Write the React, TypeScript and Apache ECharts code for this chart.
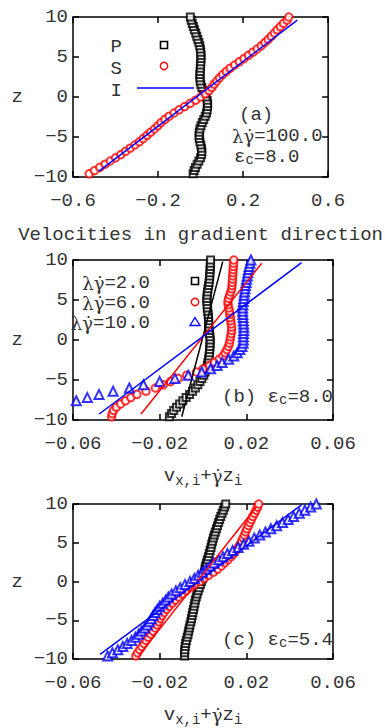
import React, { useEffect, useRef } from 'react';
import * as echarts from 'echarts';

// z grid (shared by all profiles)
const Z = [-9.6, -9.2, -8.8, -8.4, -8.0, -7.6, -7.2, -6.8, -6.4, -6.0, -5.6, -5.2, -4.8, -4.4, -4.0, -3.6, -3.2, -2.8, -2.4, -2.0, -1.6, -1.2, -0.8, -0.4, 0.0, 0.4, 0.8, 1.2, 1.6, 2.0, 2.4, 2.8, 3.2, 3.6, 4.0, 4.4, 4.8, 5.2, 5.6, 6.0, 6.4, 6.8, 7.2, 7.6, 8.0, 8.4, 8.8, 9.2, 9.6, 10.0];

// panel (a)
const A_P = [-0.035, -0.030, -0.024, -0.016, -0.008, 0.000, 0.005, 0.006, 0.004, 0.001, -0.003, -0.006, -0.007, -0.006, -0.003, 0.002, 0.008, 0.015, 0.022, 0.028, 0.031, 0.033, 0.033, 0.031, 0.026, 0.020, 0.013, 0.006, 0.001, -0.002, -0.003, -0.003, -0.002, -0.001, 0.000, 0.001, 0.002, 0.002, 0.001, -0.001, -0.004, -0.008, -0.013, -0.018, -0.023, -0.029, -0.034, -0.039, -0.044, -0.048];
const A_S = [-0.524, -0.499, -0.474, -0.449, -0.425, -0.400, -0.375, -0.353, -0.331, -0.309, -0.288, -0.270, -0.252, -0.235, -0.217, -0.201, -0.186, -0.168, -0.148, -0.125, -0.101, -0.075, -0.049, -0.023, 0.000, 0.022, 0.040, 0.053, 0.064, 0.076, 0.089, 0.104, 0.121, 0.139, 0.160, 0.182, 0.204, 0.225, 0.246, 0.266, 0.285, 0.302, 0.318, 0.333, 0.347, 0.360, 0.375, 0.390, 0.407, 0.415];
const A_I = [[-0.479, -9.3], [0.455, 9.6]];

// panel (b)
const B_P = [-0.0155, -0.0145, -0.0135, -0.0122, -0.0108, -0.0093, -0.0078, -0.0062, -0.0048, -0.0035, -0.0024, -0.0014, -0.0005, 0.0004, 0.0010, 0.0016, 0.0020, 0.0023, 0.0026, 0.0028, 0.0030, 0.0031, 0.0032, 0.0033, 0.0033, 0.0032, 0.0030, 0.0028, 0.0027, 0.0026, 0.0026, 0.0025, 0.0024, 0.0022, 0.0020, 0.0019, 0.0018, 0.0018, 0.0019, 0.0021, 0.0023, 0.0026, 0.0028, 0.0030, 0.0031, 0.0032, 0.0033, 0.0034, 0.0034, 0.0035];
const B_S = [-0.0422, -0.0419, -0.0413, -0.0400, -0.0380, -0.0358, -0.0333, -0.0305, -0.0263, -0.0220, -0.0183, -0.0150, -0.0115, -0.0075, -0.0030, 0.0000, 0.0030, 0.0052, 0.0075, 0.0092, 0.0102, 0.0110, 0.0117, 0.0122, 0.0125, 0.0127, 0.0130, 0.0132, 0.0132, 0.0130, 0.0128, 0.0126, 0.0124, 0.0122, 0.0119, 0.0116, 0.0115, 0.0118, 0.0123, 0.0128, 0.0132, 0.0134, 0.0135, 0.0136, 0.0137, 0.0138, 0.0139, 0.0140, 0.0141, 0.0142];
const B_T = [null, null, null, null, null, -0.0585, -0.0534, -0.0480, -0.0415, -0.0340, -0.0275, -0.0200, -0.0130, -0.0068, -0.0006, 0.0035, 0.0065, 0.0088, 0.0118, 0.0142, 0.0158, 0.0170, 0.0180, 0.0185, 0.0186, 0.0186, 0.0187, 0.0188, 0.0188, 0.0187, 0.0186, 0.0185, 0.0184, 0.0183, 0.0183, 0.0184, 0.0186, 0.0188, 0.0190, 0.0192, 0.0194, 0.0196, 0.0199, 0.0201, 0.0204, 0.0207, 0.0210, 0.0213, 0.0217, 0.0221];
const B_LP = [[-0.0098, -9.6], [0.0091, 9.8]];
const B_LS = [[-0.0286, -9.25], [0.0271, 9.6]];
const B_LT = [[-0.0479, -9.25], [0.0455, 9.67]];

// panel (c)
const C_P = [-0.0085, -0.0085, -0.0084, -0.0082, -0.0080, -0.0077, -0.0073, -0.0069, -0.0066, -0.0063, -0.0060, -0.0056, -0.0053, -0.0050, -0.0047, -0.0044, -0.0041, -0.0038, -0.0035, -0.0031, -0.0027, -0.0022, -0.0017, -0.0012, -0.0007, -0.0002, 0.0003, 0.0006, 0.0009, 0.0012, 0.0016, 0.0020, 0.0025, 0.0029, 0.0033, 0.0037, 0.0040, 0.0044, 0.0048, 0.0052, 0.0057, 0.0062, 0.0067, 0.0072, 0.0077, 0.0082, 0.0088, 0.0094, 0.0100, 0.0105];
const C_S = [-0.0310, -0.0302, -0.0292, -0.0282, -0.0272, -0.0262, -0.0252, -0.0240, -0.0230, -0.0220, -0.0212, -0.0205, -0.0198, -0.0190, -0.0180, -0.0168, -0.0156, -0.0143, -0.0128, -0.0113, -0.0096, -0.0078, -0.0058, -0.0038, -0.0015, 0.0005, 0.0025, 0.0048, 0.0068, 0.0085, 0.0100, 0.0115, 0.0130, 0.0142, 0.0153, 0.0163, 0.0171, 0.0178, 0.0185, 0.0191, 0.0197, 0.0203, 0.0210, 0.0217, 0.0223, 0.0230, 0.0238, 0.0245, 0.0252, 0.0257];
const C_T = [-0.0440, -0.0418, -0.0393, -0.0370, -0.0350, -0.0330, -0.0312, -0.0297, -0.0284, -0.0270, -0.0258, -0.0248, -0.0239, -0.0230, -0.0221, -0.0211, -0.0200, -0.0186, -0.0172, -0.0160, -0.0145, -0.0125, -0.0105, -0.0083, -0.0060, -0.0040, -0.0022, -0.0003, 0.0015, 0.0032, 0.0050, 0.0072, 0.0092, 0.0113, 0.0137, 0.0162, 0.0187, 0.0212, 0.0237, 0.0262, 0.0288, 0.0313, 0.0340, 0.0367, 0.0393, 0.0418, 0.0444, 0.0470, 0.0497, 0.0523];
const C_LS = [[-0.0295, -9.5], [0.0245, 9.6]];
const C_LT = [[-0.0475, -9.4], [0.0455, 9.9]];

const X_RANGES = [
  { min: -0.6, max: 0.6, interval: 0.4, digits: 1 },
  { min: -0.06, max: 0.06, interval: 0.04, digits: 2 },
  { min: -0.06, max: 0.06, interval: 0.04, digits: 2 },
];
const Y_RANGE = { min: -10, max: 10, interval: 5 };

const LEG_A = ['P', 'S', 'I'];
const LAMBDA = '{g|λγ\u0307}';
const LEG_B = [LAMBDA + '=2.0', LAMBDA + '=6.0', LAMBDA + '=10.0'];
const SERIES_B = ['λγ\u0307=2.0', 'λγ\u0307=6.0', 'λγ\u0307=10.0'];

const FONT = "'Liberation Mono', 'DejaVu Sans Mono', monospace";
const SERIF = "'DejaVu Serif', serif";
const TXT = '#333';
const FS = 19;

function pts(xs: (number | null)[]) {
  return Z.map((z, i) => [xs[i], z]).filter((p) => p[0] !== null);
}
function fmt(v: number, d: number) {
  const s = Math.abs(v).toFixed(d);
  return (v < -1e-9 ? '\u2212' : '') + s;
}

const RICH = {
  s: { fontSize: 14, fontFamily: FONT, color: TXT, verticalAlign: 'bottom', lineHeight: 14 },
  g: { fontSize: 18, fontFamily: SERIF, color: TXT },
};

export default function App() {
  const ref = useRef<HTMLDivElement>(null);
  useEffect(() => {
    const chart = echarts.init(ref.current!, null, { renderer: 'svg' });
    const gridPos = [
      { left: 73, top: 17, width: 260, height: 160 },
      { left: 73, top: 260, width: 260, height: 160 },
      { left: 73, top: 504, width: 260, height: 158 },
    ];
    const grid = gridPos.map((g) => ({ ...g, show: true, borderColor: '#000', borderWidth: 1.5, backgroundColor: 'transparent' }));
    const tick = { show: true, inside: true, length: 6, lineStyle: { color: '#000', width: 1.5 } };
    const noLine = { show: false, onZero: false };
    const labelStyle = { color: TXT, fontFamily: FONT, fontSize: FS };
    const xNames = [
      { name: 'Velocities in gradient direction', gap: 46 },
      { name: 'v{s|x,i}+{g|γ\u0307}z{s|i}', gap: 44 },
      { name: 'v{s|x,i}+{g|γ\u0307}z{s|i}', gap: 44 },
    ];
    const xAxis: any[] = [];
    const yAxis: any[] = [];
    for (let g = 0; g < 3; g++) {
      const r = X_RANGES[g];
      xAxis.push({
        type: 'value', gridIndex: g, position: 'bottom', min: r.min, max: r.max, interval: r.interval,
        axisLine: noLine, splitLine: { show: false }, axisTick: tick,
        axisLabel: { ...labelStyle, margin: 14, formatter: (v: number) => fmt(v, r.digits) },
        name: xNames[g].name, nameLocation: 'middle', nameGap: xNames[g].gap,
        nameTextStyle: { ...labelStyle, lineHeight: 24, rich: RICH },
      });
      xAxis.push({
        type: 'value', gridIndex: g, position: 'top', min: r.min, max: r.max, interval: r.interval,
        axisLine: noLine, splitLine: { show: false }, axisTick: tick, axisLabel: { show: false },
      });
      yAxis.push({
        type: 'value', gridIndex: g, position: 'left', min: Y_RANGE.min, max: Y_RANGE.max, interval: Y_RANGE.interval,
        axisLine: noLine, splitLine: { show: false }, axisTick: tick,
        axisLabel: { ...labelStyle, margin: 5, formatter: (v: number) => fmt(v, 0) },
        name: 'z', nameLocation: 'middle', nameGap: 50, nameRotate: 0,
        nameTextStyle: { ...labelStyle },
      });
      yAxis.push({
        type: 'value', gridIndex: g, position: 'right', min: Y_RANGE.min, max: Y_RANGE.max, interval: Y_RANGE.interval,
        axisLine: noLine, splitLine: { show: false }, axisTick: tick, axisLabel: { show: false },
      });
    }
    const sq = (name: string, data: any[], g: number) => ({
      type: 'scatter', name, xAxisIndex: g * 2, yAxisIndex: g * 2, data, symbol: 'emptyRect', symbolSize: 7,
      itemStyle: { color: '#000', borderColor: '#000', borderWidth: 1.6 }, clip: true,
    });
    const ci = (name: string, data: any[], g: number) => ({
      type: 'scatter', name, xAxisIndex: g * 2, yAxisIndex: g * 2, data, symbol: 'emptyCircle', symbolSize: 7.5,
      itemStyle: { color: '#ff0000', borderColor: '#ff0000', borderWidth: 1.4 }, clip: true,
    });
    const tr = (name: string, data: any[], g: number) => ({
      type: 'scatter', name, xAxisIndex: g * 2, yAxisIndex: g * 2, data, symbol: 'emptyTriangle', symbolSize: 9,
      itemStyle: { color: '#0000ff', borderColor: '#0000ff', borderWidth: 1.4 }, clip: true,
    });
    const ln = (name: string, data: any[], g: number, color: string) => ({
      type: 'line', name, xAxisIndex: g * 2, yAxisIndex: g * 2, data, symbol: 'none',
      lineStyle: { color, width: 1.5 }, itemStyle: { color }, clip: true, z: 3,
    });
    const series = [
      sq('P', pts(A_P), 0), ci('S', pts(A_S), 0), ln('I', A_I, 0, '#0000ff'),
      sq(SERIES_B[0], pts(B_P), 1), ci(SERIES_B[1], pts(B_S), 1), tr(SERIES_B[2], pts(B_T), 1),
      ln('fitP_b', B_LP, 1, '#000000'), ln('fitS_b', B_LS, 1, '#ff0000'), ln('fitT_b', B_LT, 1, '#0000ff'),
      sq('P_c', pts(C_P), 2), ci('S_c', pts(C_S), 2), tr('T_c', pts(C_T), 2),
      ln('fitS_c', C_LS, 2, '#ff0000'), ln('fitT_c', C_LT, 2, '#0000ff'),
    ];
    const txt = (x: number, y: number, text: string, align = 'left', extra: any = {}) => ({
      type: 'text', x, y, z: 10,
      style: { text, fontSize: FS, fontFamily: FONT, fill: TXT, align, verticalAlign: 'middle', rich: RICH, ...extra },
    });
    const graphic: any[] = [
      txt(122, 47, LEG_A[0], 'right'),
      { type: 'rect', z: 10, shape: { x: 160.5, y: 41.5, width: 7, height: 7 }, style: { fill: '#fff', stroke: '#000', lineWidth: 1.6 } },
      txt(122, 69, LEG_A[1], 'right'),
      { type: 'circle', z: 10, shape: { cx: 164, cy: 66, r: 3.7 }, style: { fill: '#fff', stroke: '#ff0000', lineWidth: 1.4 } },
      txt(122, 91, LEG_A[2], 'right'),
      { type: 'line', z: 10, shape: { x1: 137, y1: 88, x2: 194, y2: 88 }, style: { stroke: '#0000ff', lineWidth: 1.5 } },
      txt(239, 115, '(a)'),
      txt(232, 136, LAMBDA + '=100.0'),
      txt(234, 157, 'ε{s|c}=8.0'),
      txt(150, 283, LEG_B[0], 'right'),
      { type: 'rect', z: 10, shape: { x: 191.5, y: 277.5, width: 7, height: 7 }, style: { fill: '#fff', stroke: '#000', lineWidth: 1.6 } },
      txt(150, 303, LEG_B[1], 'right'),
      { type: 'circle', z: 10, shape: { cx: 195, cy: 302, r: 3.7 }, style: { fill: '#fff', stroke: '#ff0000', lineWidth: 1.4 } },
      txt(150, 323, LEG_B[2], 'right'),
      { type: 'polygon', z: 10, shape: { points: [[195, 317.5], [200, 325.5], [190, 325.5]] }, style: { fill: '#fff', stroke: '#0000ff', lineWidth: 1.4 } },
      txt(222, 397, '(b) ε{s|c}=8.0'),
      txt(222, 640, '(c) ε{s|c}=5.4'),
    ];
    chart.setOption({
      animation: false,
      backgroundColor: '#fff',
      grid, xAxis, yAxis, series, graphic,
    });
    return () => chart.dispose();
  }, []);
  return <div ref={ref} style={{ position: 'fixed', left: 0, top: 0, width: 385, height: 728, background: '#fff' }} />;
}
